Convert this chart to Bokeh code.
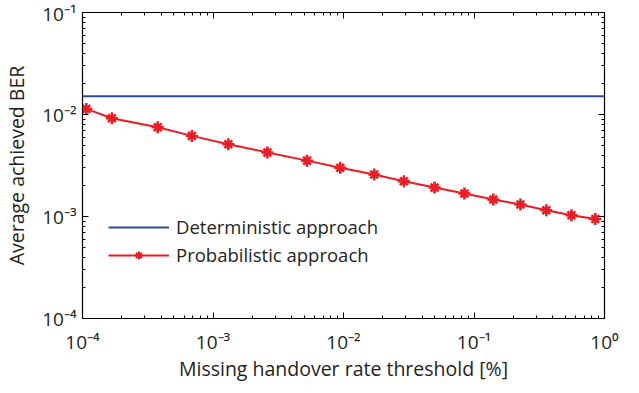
from bokeh.plotting import figure
from bokeh.models import LogAxis, Legend, LegendItem, Range1d, LogTicker, CustomJSTickFormatter
from bokeh.embed import file_html
from bokeh.resources import INLINE

# Data
x_vals = [1.07e-4, 1.68e-4, 3.77e-4, 6.89e-4, 1.31e-3, 2.61e-3, 5.26e-3, 9.44e-3,
          1.72e-2, 2.9e-2, 4.99e-2, 8.45e-2, 1.406e-1, 2.27e-1, 3.58e-1, 5.58e-1, 8.51e-1]
prob_ber = [1.135e-2, 9.2e-3, 7.5e-3, 6.17e-3, 5.12e-3, 4.25e-3, 3.53e-3, 3.0e-3,
            2.58e-3, 2.22e-3, 1.92e-3, 1.68e-3, 1.47e-3, 1.31e-3, 1.15e-3, 1.03e-3, 9.44e-4]
det_x = [1e-4, 1e0]
det_ber = [1.51e-2, 1.51e-2]
x_title = "Missing handover rate threshold [%]"
y_title = "Average achieved BER"
series_labels = ["Deterministic approach", "Probabilistic approach"]

FONT = "Open Sans"
RED = "#ED1C24"
BLUE = "#2E4A9E"
TXT = "#231F20"

sup_code = """
const sup = {'-':'\u207b','0':'\u2070','1':'\u00b9','2':'\u00b2','3':'\u00b3','4':'\u2074',
             '5':'\u2075','6':'\u2076','7':'\u2077','8':'\u2078','9':'\u2079'};
const e = Math.round(Math.log10(tick));
return '10' + String(e).split('').map(c => sup[c]).join('');
"""

p = figure(width=623, height=384, x_axis_type="log", y_axis_type="log",
           x_range=Range1d(1e-4, 1e0), y_range=Range1d(1e-4, 1e-1),
           output_backend="svg", toolbar_location=None,
           min_border_left=79, min_border_right=19, min_border_top=12, min_border_bottom=60)
p.grid.visible = False
p.outline_line_color = "black"
p.outline_line_width = 1.2

def style(ax):
    ax.major_tick_in = 6
    ax.major_tick_out = 0
    ax.minor_tick_in = 3
    ax.minor_tick_out = 0
    ax.axis_line_color = "black"
    ax.major_tick_line_color = "black"
    ax.minor_tick_line_color = "black"
    ax.major_label_text_font = FONT
    ax.major_label_text_font_size = "19px"
    ax.major_label_text_color = TXT
    ax.axis_label_text_font = FONT
    ax.axis_label_text_font_size = "19.5px"
    ax.axis_label_text_font_style = "normal"
    ax.axis_label_text_color = TXT

xa = p.xaxis[0]
ya = p.yaxis[0]
style(xa)
style(ya)
xa.ticker = LogTicker(desired_num_ticks=5, num_minor_ticks=10)
ya.ticker = LogTicker(desired_num_ticks=4, num_minor_ticks=10)
xa.formatter = CustomJSTickFormatter(code=sup_code)
ya.formatter = CustomJSTickFormatter(code=sup_code)
xa.axis_label = x_title
ya.axis_label = y_title
xa.major_label_standoff = 10
xa.axis_label_standoff = -3
ya.major_label_standoff = 6
ya.axis_label_standoff = 9

top = LogAxis(ticker=LogTicker(desired_num_ticks=5, num_minor_ticks=10))
right = LogAxis(ticker=LogTicker(desired_num_ticks=4, num_minor_ticks=10))
for ax in (top, right):
    style(ax)
    ax.major_label_text_font_size = "1px"
    ax.major_label_text_alpha = 0
    ax.major_label_standoff = 0
p.add_layout(top, "above")
p.add_layout(right, "right")

det = p.line(det_x, det_ber, line_color=BLUE, line_width=2)
pl = p.line(x_vals, prob_ber, line_color=RED, line_width=2)
# small markers (used for legend) drawn underneath the larger ones
lm1 = p.scatter(x_vals, prob_ber, marker="cross", size=9, line_color=RED, line_width=2)
lm2 = p.scatter(x_vals, prob_ber, marker="x", size=8, line_color=RED, line_width=2)
p.scatter(x_vals, prob_ber, marker="cross", size=12, line_color=RED, line_width=2.5)
p.scatter(x_vals, prob_ber, marker="x", size=11, line_color=RED, line_width=2.5)

legend = Legend(items=[LegendItem(label=series_labels[0], renderers=[det]),
                       LegendItem(label=series_labels[1], renderers=[pl, lm1, lm2])],
                location=(26, 51), glyph_width=61, glyph_height=20, label_height=20,
                spacing=3, padding=0, label_standoff=7,
                label_text_font=FONT, label_text_font_size="18.5px", label_text_color=TXT,
                border_line_alpha=0, background_fill_alpha=0)
p.add_layout(legend, "center")

open("out.html", "w").write(file_html(p, INLINE))
